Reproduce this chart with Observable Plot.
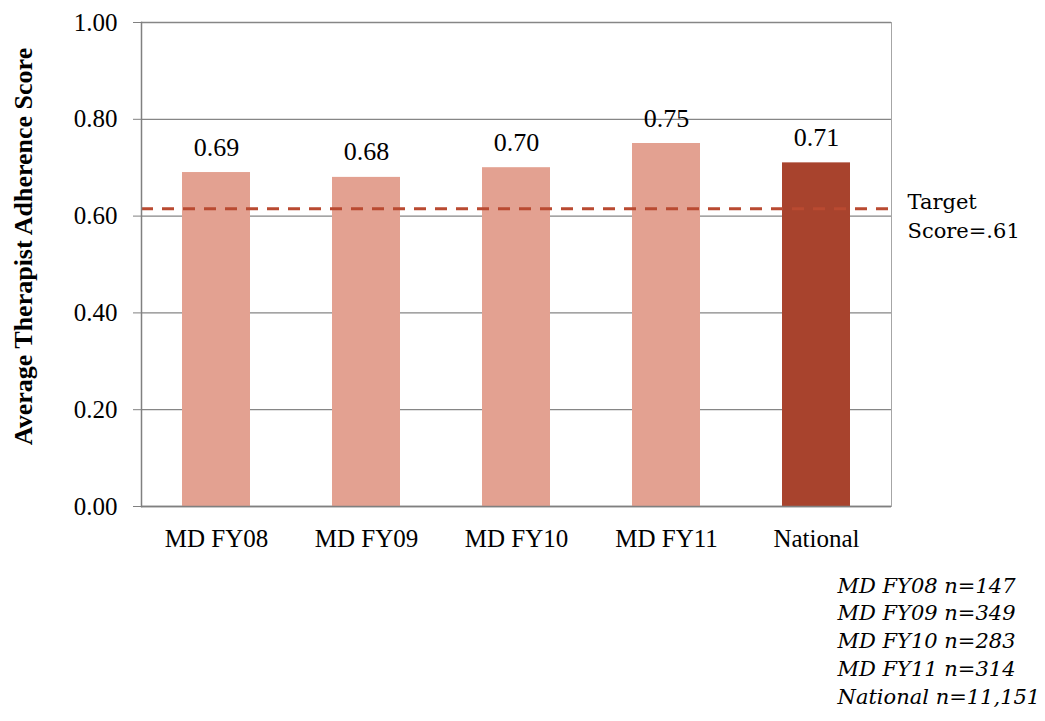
<!DOCTYPE html>
<html>
<head>
<meta charset="utf-8">
<script src="https://cdn.jsdelivr.net/npm/d3@7"></script>
<script src="https://cdn.jsdelivr.net/npm/@observablehq/plot@0.6"></script>
<style>
  html, body { margin: 0; padding: 0; background: #ffffff; }
</style>
</head>
<body>
<div id="chart"></div>
<script>
const categories = ["MD FY08", "MD FY09", "MD FY10", "MD FY11", "National"];
const scores = [0.69, 0.68, 0.70, 0.75, 0.71];
const barColors = ["#E3A191", "#E3A191", "#E3A191", "#E3A191", "#A8432D"];
const yTicks = [0, 0.2, 0.4, 0.6, 0.8, 1.0];
const targetLine = 0.615;
const targetLabel = "Target\nScore=.61";
const sampleNotes = ["MD FY08 n=147", "MD FY09 n=349", "MD FY10 n=283", "MD FY11 n=314", "National n=11,151"];
const yTitle = "Average Therapist Adherence Score";

const data = categories.map((c, i) => ({category: c, score: scores[i], color: barColors[i]}));

const serif = "Liberation Serif";
const altSerif = "DejaVu Serif";

const chart = Plot.plot({
  width: 1045,
  height: 721,
  marginLeft: 141,
  marginRight: 154,
  marginTop: 22,
  marginBottom: 215,
  style: {fontFamily: serif, fontSize: "25px", color: "#000", background: "#ffffff", overflow: "visible"},
  x: {domain: categories, paddingInner: 0.547, paddingOuter: 0.2735, axis: null},
  y: {domain: [0, 1], axis: null},
  marks: [
    Plot.frame({stroke: "#a6a6a6"}),
    Plot.ruleY(yTicks, {stroke: "#868686", strokeWidth: 1.3}),
    Plot.barY(data, {x: "category", y: "score", fill: "color"}),
    Plot.ruleY([targetLine], {stroke: "#B94A31", strokeWidth: 3, strokeDasharray: "12,9"}),
    Plot.frame({anchor: "left", stroke: "#808080", strokeWidth: 1.5}),
    Plot.ruleY([0], {stroke: "#808080", strokeWidth: 1.5}),
    Plot.axisY({ticks: yTicks, tickFormat: d3.format(".2f"), tickSize: 8, tickPadding: 16, stroke: "#808080", fontSize: 25, fontFamily: serif, fill: "#000", label: null}),
    Plot.axisX({tickSize: 0, tickPadding: 23, fontSize: 25, fontFamily: serif, fill: "#000", label: null}),
    Plot.text(data, {x: "category", y: "score", text: d => d3.format(".2f")(d.score), lineAnchor: "bottom", dy: -17, fontSize: 26, fontFamily: serif, fill: "#000"}),
    Plot.text([yTitle], {frameAnchor: "left", rotate: -90, dx: -118, dy: -18, fontWeight: "bold", fontSize: 26, fontFamily: serif, fill: "#000", textAnchor: "middle", lineAnchor: "middle"}),
    Plot.text([targetLabel], {y: () => targetLine, frameAnchor: "right", textAnchor: "start", lineAnchor: "bottom", dx: 16, dy: 29, lineHeight: 1.38, fontSize: 21, fontFamily: altSerif, fill: "#000"}),
    Plot.text([sampleNotes.join("\n")], {frameAnchor: "bottom-left", textAnchor: "start", lineAnchor: "bottom", dx: 696, dy: 197, lineHeight: 1.32, fontSize: 21, fontStyle: "italic", fontFamily: altSerif, fill: "#000"})
  ]
});

document.getElementById("chart").appendChild(chart);
</script>
</body>
</html>
